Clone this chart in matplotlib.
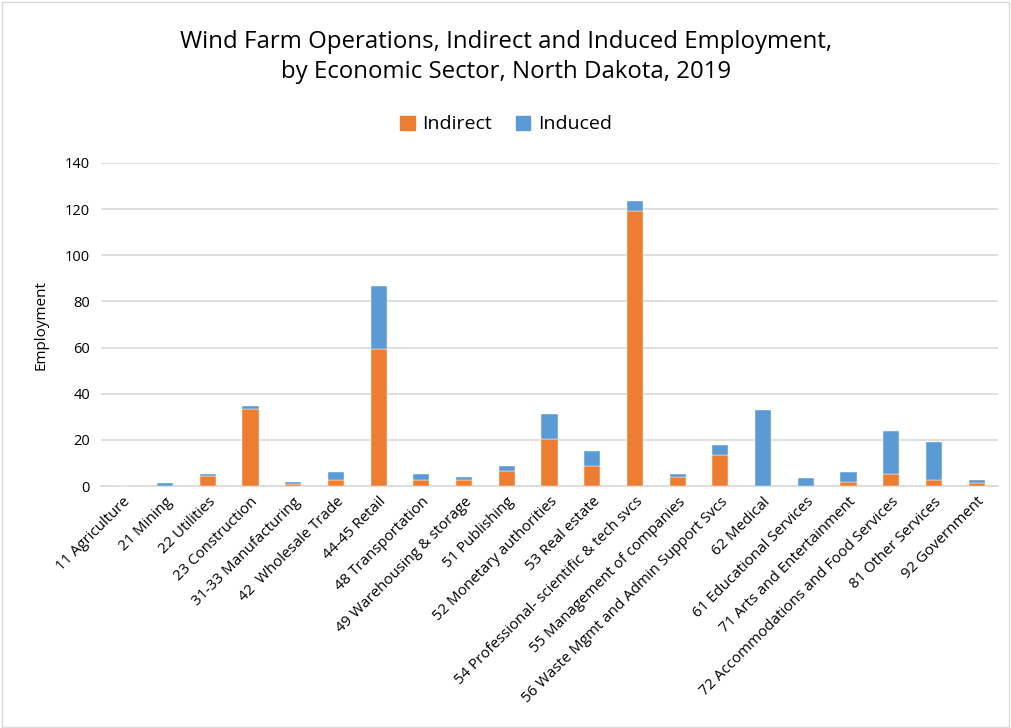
import matplotlib
matplotlib.use("Agg")
import matplotlib.pyplot as plt
from matplotlib.patches import Patch, Rectangle

plt.rcParams['font.family'] = ['Open Sans', 'DejaVu Sans']

categories = ["11 Agriculture", "21 Mining", "22 Utilities", "23 Construction",
              "31-33 Manufacturing", "42  Wholesale Trade", "44-45 Retail",
              "48 Transportation", "49 Warehousing & storage", "51 Publishing",
              "52 Monetary authorities", "53 Real estate",
              "54 Professional- scientific & tech svcs", "55 Management of companies",
              "56 Waste Mgmt and Admin Support Svcs", "62 Medical",
              "61 Educational Services", "71 Arts and Entertainment",
              "72 Accommodations and Food Services", "81 Other Services",
              "92 Government"]
indirect = [0.0, 0.2, 4.2, 33.4, 1.0, 2.5, 59.2, 2.5, 2.8, 6.3, 20.5, 8.8,
            119.3, 3.7, 13.4, 0.1, 0.0, 1.7, 5.3, 2.8, 1.1]
induced = [0.0, 1.1, 0.9, 1.2, 0.7, 3.5, 27.5, 2.5, 1.3, 2.2, 10.6, 6.2,
           4.1, 1.3, 4.2, 33.0, 3.3, 4.2, 18.5, 16.4, 1.7]
yticks = [0, 20, 40, 60, 80, 100, 120, 140]

ORANGE = "#ED7D31"
BLUE = "#5B9BD5"
GRID = "#D9D9D9"

fig = plt.figure(figsize=(10.12, 7.28), dpi=100)
fig.patches.append(Rectangle((0.002, 0.002), 0.995, 0.995, transform=fig.transFigure,
                             fill=False, edgecolor="#D9D9D9", linewidth=1))
ax = fig.add_axes([0.0998, 0.3324, 0.8864, 0.4437])

x = list(range(len(categories)))
ax.bar(x, indirect, width=0.38, color=ORANGE, label="Indirect", zorder=3,
       edgecolor="white", linewidth=0.3)
ax.bar(x, induced, width=0.38, bottom=indirect, color=BLUE, label="Induced", zorder=3,
       edgecolor="white", linewidth=0.3)

ax.set_xlim(-0.5, len(categories) - 0.5)
ax.set_ylim(0, 140)
ax.set_yticks(yticks)
ax.set_yticklabels([str(v) for v in yticks], fontsize=10.5, color="#000000")
ax.yaxis.grid(True, color=GRID, linewidth=1.2, zorder=0)
ax.set_axisbelow(True)
for s in ["top", "right", "left"]:
    ax.spines[s].set_visible(False)
ax.spines["bottom"].set_color(GRID)
ax.spines["bottom"].set_linewidth(1.2)
ax.tick_params(axis="y", length=0, pad=8)
ax.tick_params(axis="x", length=0, pad=6)
ax.set_xticks(x)
ax.set_xticklabels(categories, rotation=45, ha="right", rotation_mode="anchor",
                   fontsize=10.8, color="#000000")
ax.set_ylabel("Employment", fontsize=11, color="#000000", labelpad=12)

fig.text(0.5, 0.922, "Wind Farm Operations, Indirect and Induced Employment,\nby Economic Sector, North Dakota, 2019",
         ha="center", va="center", fontsize=17.3, color="#000000", linespacing=1.35)

handles = [Patch(color=ORANGE, label="Indirect"), Patch(color=BLUE, label="Induced")]
fig.legend(handles=handles, loc="center", bbox_to_anchor=(0.5, 0.829), ncol=2,
           frameon=False, fontsize=14, handlelength=0.75, handleheight=0.75,
           columnspacing=1.2, handletextpad=0.4)

fig.savefig("out.png", dpi=100)
